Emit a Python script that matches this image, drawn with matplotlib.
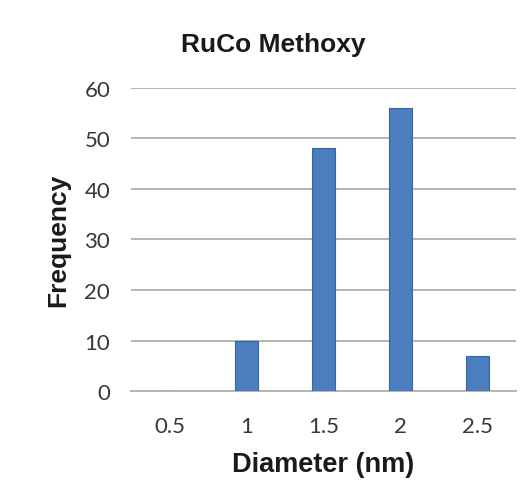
import matplotlib
matplotlib.use("Agg")
import matplotlib.pyplot as plt
import numpy as np

categories = ["0.5", "1", "1.5", "2", "2.5"]
frequency = [0, 10, 48, 56, 7]
yticks = [0, 10, 20, 30, 40, 50, 60]

fig = plt.figure(figsize=(5.26, 5.02), dpi=100)
ax = fig.add_axes([0.249, 0.219, 0.732, 0.604])

x = np.arange(len(categories))
ax.bar(x, frequency, width=0.3, color="#4a7ebf", edgecolor="#3a64a0", linewidth=0.8, zorder=3)

ax.set_xlim(-0.5, len(categories) - 0.5)
ax.set_ylim(0, 60)
ax.set_yticks(yticks)
ax.set_xticks(x)
ax.set_xticklabels(categories)
ax.yaxis.grid(True, color="#b4b4b4", linewidth=1.4, zorder=0)
ax.set_axisbelow(True)
for s in ["top", "right", "left"]:
    ax.spines[s].set_visible(False)
ax.spines["bottom"].set_color("#b4b4b4")
ax.spines["bottom"].set_linewidth(1.4)
ax.tick_params(axis="both", length=0, labelsize=16, colors="#383838")
ax.tick_params(axis="y", pad=15)
ax.tick_params(axis="x", pad=18)
for lab in ax.get_xticklabels() + ax.get_yticklabels():
    lab.set_fontfamily("Lato")

fig.text(0.52, 0.91, "RuCo Methoxy", ha="center", va="center",
         fontsize=19, fontweight="bold", family="Liberation Sans", color="#1a1a1a")
ax.set_xlabel("Diameter (nm)", fontsize=19.5, fontweight="bold", family="Liberation Sans",
              color="#1a1a1a", labelpad=11)
ax.set_ylabel("Frequency", fontsize=19, fontweight="bold", family="Liberation Sans",
              color="#1a1a1a", labelpad=10)

fig.savefig("out.png", dpi=100)
